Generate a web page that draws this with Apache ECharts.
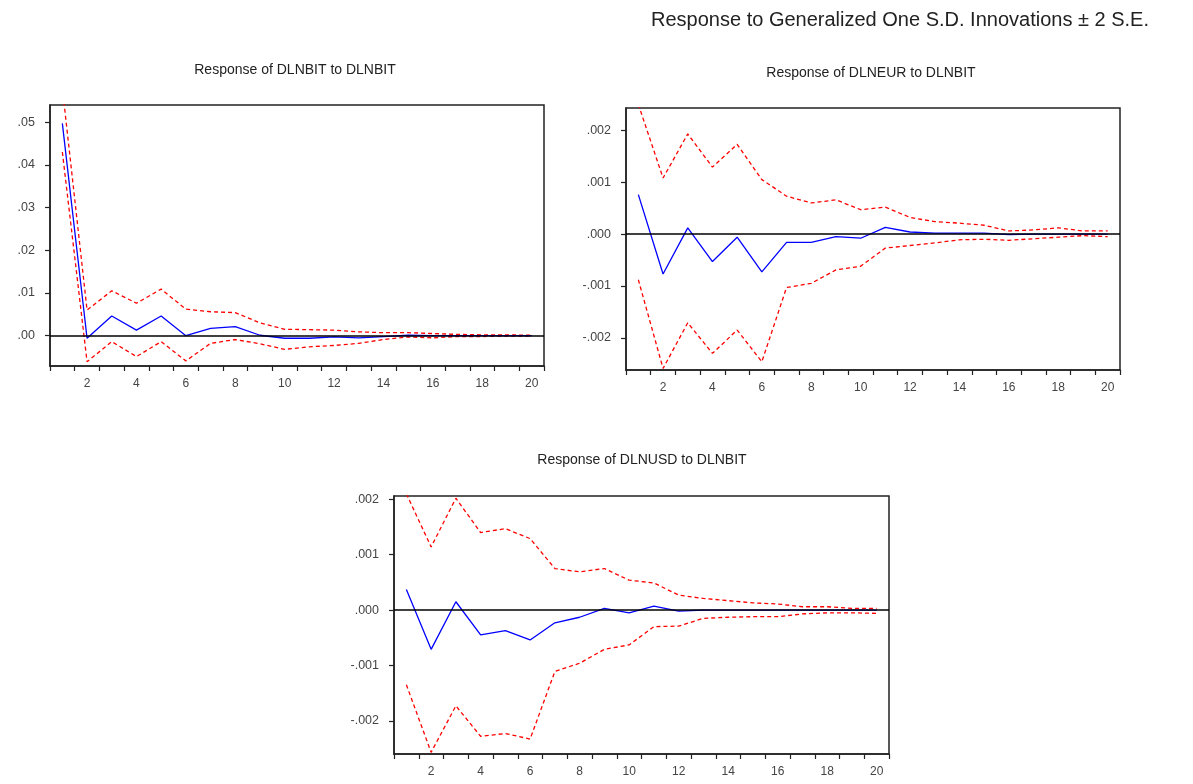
<!DOCTYPE html>
<html>
<head>
<meta charset="utf-8">
<script src="https://cdn.jsdelivr.net/npm/echarts@6/dist/echarts.min.js"></script>
<style>
  html, body { margin: 0; padding: 0; background: #fff; }
  #main { width: 1193px; height: 784px; }
</style>
</head>
<body>
<div id="main"></div>
<script>
var periods = ['1','2','3','4','5','6','7','8','9','10','11','12','13','14','15','16','17','18','19','20'];

// Response of DLNBIT to DLNBIT
var bitResp  = [0.0497, -0.0006, 0.0046, 0.0013, 0.0046, 0.0000, 0.0017, 0.0021, 0.0001, -0.0006, -0.0006, -0.0003, -0.0005, -0.0002, 0.0001, 0.0000, 0.0000, 0.0000, 0.0000, 0.0000];
var bitUpper = [0.0580, 0.0060, 0.0105, 0.0076, 0.0109, 0.0062, 0.0056, 0.0054, 0.0030, 0.0015, 0.0014, 0.0013, 0.0009, 0.0007, 0.0007, 0.0005, 0.0003, 0.0002, 0.0002, 0.0001];
var bitLower = [0.0430, -0.0061, -0.0014, -0.0049, -0.0014, -0.0059, -0.0018, -0.0009, -0.0019, -0.0032, -0.0026, -0.0023, -0.0018, -0.0009, -0.0003, -0.0005, -0.0002, -0.0002, -0.0001, -0.0001];

// Response of DLNEUR to DLNBIT
var eurResp  = [0.00076, -0.00077, 0.00012, -0.00053, -0.00006, -0.00073, -0.00016, -0.00016, -0.00005, -0.00008, 0.00013, 0.00004, 0.00002, 0.00002, 0.00002, -0.00001, 0.00000, 0.00000, 0.00000, 0.00000];
var eurUpper = [0.00250, 0.00108, 0.00193, 0.00129, 0.00173, 0.00105, 0.00073, 0.00060, 0.00066, 0.00047, 0.00052, 0.00032, 0.00024, 0.00021, 0.00017, 0.00006, 0.00008, 0.00012, 0.00006, 0.00006];
var eurLower = [-0.00088, -0.00259, -0.00171, -0.00230, -0.00185, -0.00246, -0.00103, -0.00095, -0.00069, -0.00062, -0.00027, -0.00022, -0.00017, -0.00011, -0.00010, -0.00012, -0.00009, -0.00006, -0.00003, -0.00005];

// Response of DLNUSD to DLNBIT
var usdResp  = [0.00037, -0.00071, 0.00015, -0.00045, -0.00037, -0.00054, -0.00023, -0.00013, 0.00003, -0.00005, 0.00007, -0.00002, 0.00000, 0.00000, 0.00000, 0.00000, 0.00000, 0.00000, 0.00000, 0.00000];
var usdUpper = [0.00210, 0.00114, 0.00202, 0.00140, 0.00147, 0.00129, 0.00075, 0.00069, 0.00075, 0.00054, 0.00049, 0.00027, 0.00021, 0.00017, 0.00013, 0.00011, 0.00006, 0.00006, 0.00003, 0.00003];
var usdLower = [-0.00135, -0.00257, -0.00173, -0.00228, -0.00223, -0.00233, -0.00111, -0.00096, -0.00071, -0.00063, -0.00030, -0.00029, -0.00015, -0.00013, -0.00012, -0.00012, -0.00007, -0.00005, -0.00005, -0.00006];

var labelFont = 'Liberation Sans';

function fmt(digits) {
    return function (v) {
        var s = Math.abs(v).toFixed(digits).replace(/^0/, '');
        return (v < -1e-12 ? '-' : '') + s;
    };
}

function make_x(gridIndex) {
    return {
        type: 'category',
        gridIndex: gridIndex,
        data: periods,
        boundaryGap: true,
        axisLine: { onZero: false, lineStyle: { color: '#222', width: 1.5 } },
        axisTick: { show: true, interval: 0, length: 5, lineStyle: { color: '#222', width: 1.2 } },
        axisLabel: {
            interval: function (index) { return index % 2 === 1; },
            color: '#444',
            fontSize: 12,
            fontFamily: labelFont,
            margin: 12
        },
        splitLine: { show: false }
    };
}

function make_y(gridIndex, min, max, step, digits) {
    return {
        type: 'value',
        gridIndex: gridIndex,
        min: min,
        max: max,
        minInterval: step,
        maxInterval: step,
        axisLine: { show: true, onZero: false, lineStyle: { color: '#222', width: 1.5 } },
        axisTick: { show: true, length: 5, lineStyle: { color: '#222', width: 1.2 } },
        axisLabel: {
            showMinLabel: false,
            showMaxLabel: false,
            formatter: fmt(digits),
            color: '#444',
            fontSize: 12.5,
            fontFamily: labelFont,
            margin: 15
        },
        splitLine: { show: false }
    };
}

function make_series(gridIndex, resp, upper, lower) {
    var band = {
        type: 'line',
        xAxisIndex: gridIndex,
        yAxisIndex: gridIndex,
        symbol: 'none',
        clip: true,
        lineStyle: { color: '#ff0000', width: 1.3, type: [4, 3] }
    };
    return [
        Object.assign({}, band, { name: 'upper', data: upper }),
        Object.assign({}, band, { name: 'lower', data: lower }),
        {
            name: 'response',
            type: 'line',
            xAxisIndex: gridIndex,
            yAxisIndex: gridIndex,
            symbol: 'none',
            clip: true,
            data: resp,
            lineStyle: { color: '#0000ff', width: 1.3 },
            markLine: {
                silent: true,
                symbol: ['none', 'none'],
                label: { show: false },
                lineStyle: { color: '#000', width: 1.5, type: 'solid' },
                data: [{ yAxis: 0 }]
            }
        }
    ];
}

function sub_title(text, x, y) {
    return {
        type: 'text',
        x: x,
        y: y,
        style: {
            text: text,
            fill: '#222',
            font: '14px "Liberation Sans"',
            textAlign: 'center',
            textVerticalAlign: 'middle'
        }
    };
}

var chart = echarts.init(document.getElementById('main'));
var gridStyle = { show: true, borderColor: '#222', borderWidth: 1.5, backgroundColor: 'transparent', containLabel: false };

chart.setOption({
    animation: false,
    backgroundColor: '#fff',
    graphic: [
        {
            type: 'text',
            x: 900,
            y: 20,
            style: {
                text: 'Response to Generalized One S.D. Innovations \u00b1 2 S.E.',
                fill: '#222',
                font: '20px "Liberation Sans"',
                textAlign: 'center',
                textVerticalAlign: 'middle'
            }
        },
        sub_title('Response of DLNBIT to DLNBIT', 295, 70),
        sub_title('Response of DLNEUR to DLNBIT', 871, 73),
        sub_title('Response of DLNUSD to DLNBIT', 642, 460)
    ],
    grid: [
        Object.assign({ left: 50, top: 105, width: 494, height: 261 }, gridStyle),
        Object.assign({ left: 626, top: 108, width: 494, height: 262 }, gridStyle),
        Object.assign({ left: 394, top: 496, width: 495, height: 258 }, gridStyle)
    ],
    xAxis: [make_x(0), make_x(1), make_x(2)],
    yAxis: [
        make_y(0, -0.0071, 0.054, 0.01, 2),
        make_y(1, -0.00262, 0.00243, 0.001, 3),
        make_y(2, -0.0026, 0.00206, 0.001, 3)
    ],
    series: []
        .concat(make_series(0, bitResp, bitUpper, bitLower))
        .concat(make_series(1, eurResp, eurUpper, eurLower))
        .concat(make_series(2, usdResp, usdUpper, usdLower))
});
</script>
</body>
</html>
